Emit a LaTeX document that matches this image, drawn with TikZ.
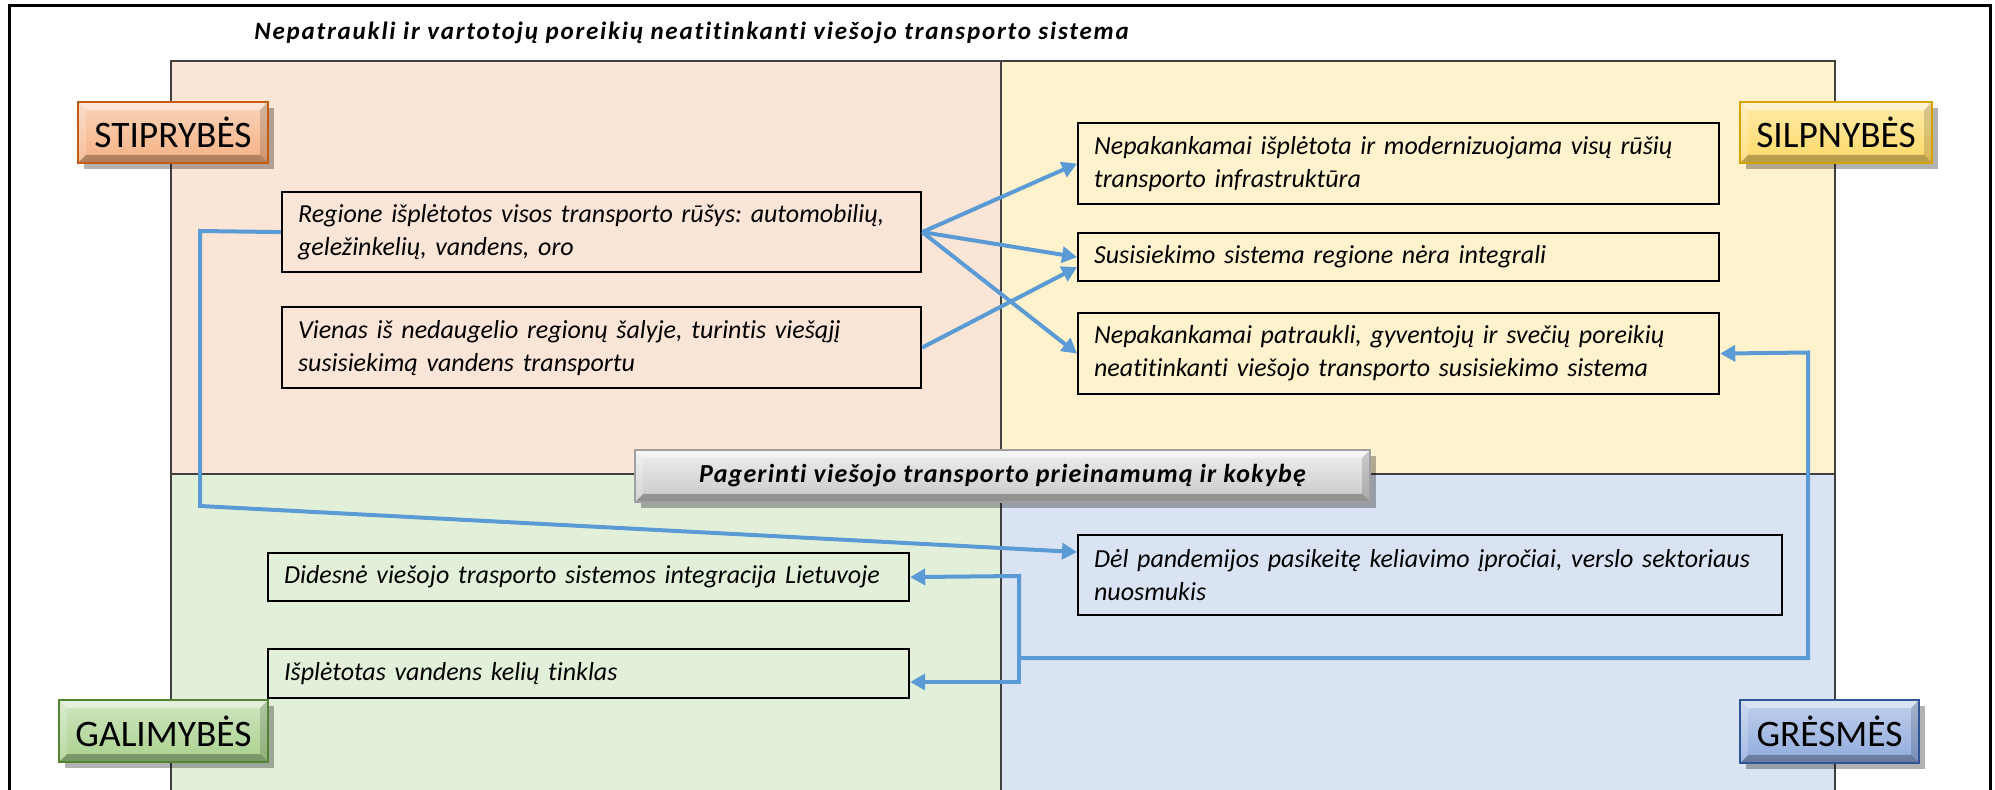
\documentclass[tikz,border=0pt]{standalone}
\usepackage{fontspec}
\setmainfont[Ligatures=NoCommon]{Carlito}
\frenchspacing
\usetikzlibrary{arrows.meta,shadows}
\definecolor{qS}{HTML}{FBE5D6}
\definecolor{qW}{HTML}{FFF2CC}
\definecolor{qO}{HTML}{E2F0D9}
\definecolor{qT}{HTML}{DAE3F3}
\definecolor{blueline}{HTML}{5B9BD5}
\definecolor{quadline}{HTML}{404040}
\definecolor{sBase}{HTML}{F4B183}
\definecolor{sEdge}{HTML}{C55A11}
\definecolor{wBase}{HTML}{FFD966}
\definecolor{wEdge}{HTML}{D4A300}
\definecolor{oBase}{HTML}{A9D18E}
\definecolor{oEdge}{HTML}{548235}
\definecolor{tBase}{HTML}{8FAADC}
\definecolor{tEdge}{HTML}{2F5597}
\definecolor{cBase}{HTML}{C8C8C8}
\definecolor{cEdge}{HTML}{A0A0A0}
\tikzset{
  txtbox/.style={draw=black, line width=1.1pt, anchor=north west, align=left,
    inner xsep=8pt, inner ysep=2pt,
    font=\fontsize{13}{16.5}\selectfont\itshape},
  lab/.style={line width=0.8pt, inner sep=0pt, font=\fontsize{18.7}{20}\selectfont,
    drop shadow={shadow xshift=3pt,shadow yshift=-3pt,fill=black,opacity=0.3},
    path picture={
      \fill[white,opacity=0.45] (path picture bounding box.north west) -- (path picture bounding box.north east) -- ([shift={(-4pt,-4pt)}]path picture bounding box.north east) -- ([shift={(4pt,-4pt)}]path picture bounding box.north west) -- cycle;
      \fill[black,opacity=0.28] (path picture bounding box.south west) -- (path picture bounding box.south east) -- ([shift={(-4pt,4pt)}]path picture bounding box.south east) -- ([shift={(4pt,4pt)}]path picture bounding box.south west) -- cycle;
      \fill[white,opacity=0.2] (path picture bounding box.south west) -- (path picture bounding box.north west) -- ([shift={(4pt,-4pt)}]path picture bounding box.north west) -- ([shift={(4pt,4pt)}]path picture bounding box.south west) -- cycle;
      \fill[black,opacity=0.15] (path picture bounding box.south east) -- (path picture bounding box.north east) -- ([shift={(-4pt,-4pt)}]path picture bounding box.north east) -- ([shift={(-4pt,4pt)}]path picture bounding box.south east) -- cycle;
    }},
  link/.style={draw=blueline, line width=2pt},
  linkarrow/.style={link, -{Triangle[length=7.5pt,width=8pt]}}
}
\begin{document}
\begin{tikzpicture}[x=0.5pt,y=-0.5pt]
\clip (0,0) rectangle (1995,790);
\fill[white] (0,0) rectangle (1995,790);
% outer frame
\draw[black, line width=1.5pt] (9,6) rectangle (1990,820);
% quadrants
\fill[qS] (171,61) rectangle (1001,474);
\fill[qW] (1001,61) rectangle (1835,474);
\fill[qO] (171,474) rectangle (1001,820);
\fill[qT] (1001,474) rectangle (1835,820);
\draw[quadline, line width=0.8pt] (171,61) rectangle (1835,820);
\draw[quadline, line width=0.8pt] (1001,61) -- (1001,820);
\draw[quadline, line width=0.8pt] (171,474) -- (1835,474);
% title
\node[anchor=west, inner sep=0pt, font=\fontsize{12.5}{15}\selectfont\bfseries\itshape\addfontfeature{LetterSpace=7.2}] (title) at (254,33) {Nepatraukli ir vartotojų poreikių neatitinkanti viešojo transporto sistema};
% text boxes
\node[txtbox, text width=303.5pt, minimum height=40pt] (s1) at (281,191) {Regione išplėtotos visos transporto rūšys: automobilių,\\geležinkelių, vandens, oro};
\node[txtbox, text width=303.5pt, minimum height=40.5pt] (s2) at (281,306) {Vienas iš nedaugelio regionų šalyje, turintis viešąjį\\susisiekimą vandens transportu};
\node[txtbox, text width=304.5pt, minimum height=40.5pt] (w1) at (1077,122) {Nepakankamai išplėtota ir modernizuojama visų rūšių\\transporto infrastruktūra};
\node[txtbox, text width=304.5pt, minimum height=24pt] (w2) at (1077,232) {Susisiekimo sistema regione nėra integrali};
\node[txtbox, text width=304.5pt, minimum height=40.5pt] (w3) at (1077,312) {Nepakankamai patraukli, gyventojų ir svečių poreikių\\neatitinkanti viešojo transporto susisiekimo sistema};
\node[txtbox, text width=304.5pt, minimum height=24pt] (o1) at (267,552) {Didesnė viešojo trasporto sistemos integracija Lietuvoje};
\node[txtbox, text width=304.5pt, minimum height=24.5pt] (o2) at (267,648) {Išplėtotas vandens kelių tinklas};
\node[txtbox, text width=336pt, minimum height=40pt] (t1) at (1077,534) {Dėl pandemijos pasikeitę keliavimo įpročiai, verslo sektoriaus\\nuosmukis};
% label boxes
\node[lab, draw=sEdge, top color=white!45!sBase, bottom color=sBase, minimum width=95pt, minimum height=30.5pt] (stip) at (173,132.5) {STIPRYBĖS};
\node[lab, draw=wEdge, top color=white!45!wBase, bottom color=wBase, minimum width=96pt, minimum height=30.5pt] (silp) at (1836,132.5) {SILPNYBĖS};
\node[lab, draw=oEdge, top color=white!45!oBase, bottom color=oBase, minimum width=104.5pt, minimum height=31pt] (gal) at (163.5,731) {GALIMYBĖS};
\node[lab, draw=tEdge, top color=white!45!tBase, bottom color=tBase, minimum width=89.5pt, minimum height=31.5pt] (gres) at (1829.5,731.5) {GRĖSMĖS};
\node[lab, draw=cEdge, top color=white!70!cBase, bottom color=cBase, minimum width=367.5pt, minimum height=26pt, font=\fontsize{13}{15}\selectfont\bfseries\itshape\addfontfeature{LetterSpace=4.5}] (goal) at (1002.5,476) {Pagerinti viešojo transporto prieinamumą ir kokybę};
% connectors
\draw[linkarrow] (s1.east) -- (w1.west);
\draw[linkarrow] (s1.east) -- (w2.west);
\draw[linkarrow] (s1.east) -- (w3.west);
\draw[linkarrow] (s2.east) -- ([yshift=-5pt]w2.west);
\coordinate (b1) at (200,231);
\coordinate (b2) at (200,506);
\draw[linkarrow, line join=miter] (s1.west) -- (b1) -- (b2) -- ([yshift=-9pt]t1.north west);
\coordinate (r1) at (1808,352.5);
\coordinate (r2) at (1808,658);
\coordinate (m1) at (1019,658);
\coordinate (m2) at (1019,576);
\coordinate (m3) at (1019,682);
\draw[linkarrow, line join=miter] (m1) -- (r2) -- (r1) -- (w3.east);
\draw[linkarrow, line join=miter] (m1) -- (m2) -- (o1.east);
\draw[linkarrow, line join=miter] (m1) -- (m3) -- (o2.east |- m3);
\end{tikzpicture}
\end{document}
